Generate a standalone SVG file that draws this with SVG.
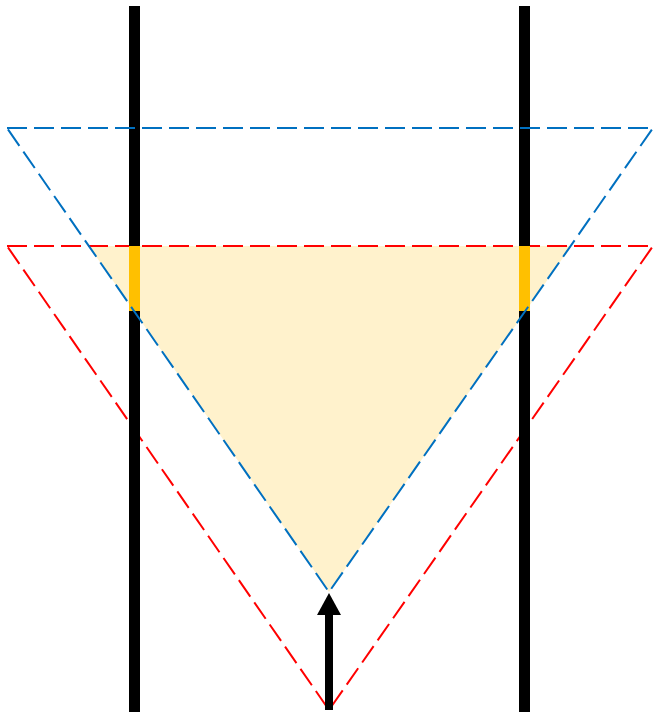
<svg xmlns="http://www.w3.org/2000/svg" width="659" height="718" viewBox="0 0 659 718">
<style>
.tri{fill:none;stroke-width:2;stroke-dasharray:20 7;stroke-linejoin:miter}
.rail{stroke:#000;stroke-width:11}
.hl{stroke:#FFC000;stroke-width:11}
</style>
<rect width="659" height="718" fill="#fff"/>
<g id="overlap"><polygon points="88.8,246 571.2,246 329,592" fill="#FFF2CC"/></g>
<g id="red-triangle"><polygon class="tri" stroke="#FF0000" points="7,246 653,246 329,710"/></g>
<g id="rail-left"><line class="rail" x1="134.5" y1="6" x2="134.5" y2="712"/><line class="hl" x1="134.5" y1="246" x2="134.5" y2="311"/></g>
<g id="rail-right"><line class="rail" x1="524.5" y1="6" x2="524.5" y2="712"/><line class="hl" x1="524.5" y1="246" x2="524.5" y2="311"/></g>
<g id="blue-triangle"><polygon class="tri" stroke="#0070C0" points="7,128 653,128 329,592"/></g>
<g id="connectors">
<line x1="329" y1="710" x2="329" y2="613" stroke="#000" stroke-width="8"/>
<polygon points="329,593 317,615 341,615" fill="#000"/>
</g>
</svg>
